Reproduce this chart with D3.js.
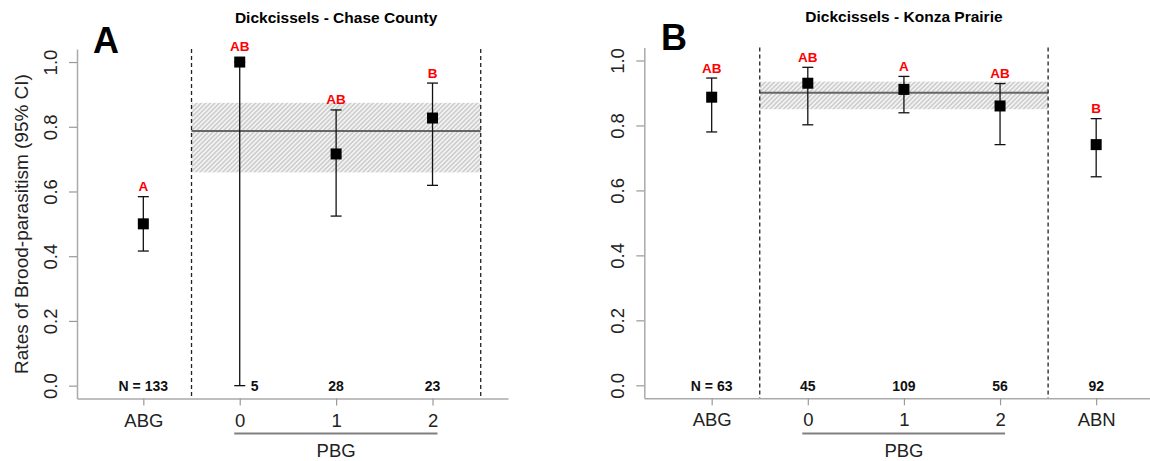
<!DOCTYPE html>
<html>
<head>
<meta charset="utf-8">
<script src="https://cdn.jsdelivr.net/npm/d3@7"></script>
<style>
  body { margin: 0; background: #fff; }
  svg { font-family: "Liberation Sans", Arial, sans-serif; }
</style>
</head>
<body>
<svg id="chart" width="1150" height="461"></svg>
<script>
// --- data ---
const yTicks = [0, 0.2, 0.4, 0.6, 0.8, 1.0];

// Panel A: Chase County
const groupsA  = ["ABG", "0", "1", "2"];
const meansA   = [0.500, 1.000, 0.716, 0.827];
const lowerA   = [0.416, 0.000, 0.524, 0.619];
const upperA   = [0.584, 1.000, 0.852, 0.935];
const nA       = ["N = 133", "5", "28", "23"];
const lettersA = ["A", "AB", "AB", "B"];
const pbgA     = [0.659, 0.787, 0.874]; // lower, pooled, upper

// Panel B: Konza Prairie
const groupsB  = ["ABG", "0", "1", "2", "ABN"];
const meansB   = [0.887, 0.930, 0.911, 0.860, 0.741];
const lowerB   = [0.780, 0.802, 0.839, 0.741, 0.642];
const upperB   = [0.946, 0.979, 0.951, 0.929, 0.821];
const nB       = ["N = 63", "45", "109", "56", "92"];
const lettersB = ["AB", "AB", "A", "AB", "B"];
const pbgB     = [0.850, 0.901, 0.935];

const svg = d3.select("#chart");

// hatch for the pooled PBG band
const defs = svg.append("defs");
const pat = defs.append("pattern")
  .attr("id", "hatch")
  .attr("patternUnits", "userSpaceOnUse")
  .attr("width", 3.2).attr("height", 3.2)
  .attr("patternTransform", "rotate(45)");
pat.append("rect").attr("width", 3.2).attr("height", 3.2).attr("fill", "#f3f3f3");
pat.append("line").attr("x1", 0.8).attr("y1", 0).attr("x2", 0.8).attr("y2", 3.2)
  .attr("stroke", "#c6c6c6").attr("stroke-width", 1.3);

function drawPanel(p) {
  const g = svg.append("g");
  const n = p.groups.length;

  const x = d3.scaleLinear().domain(p.xDomain).range(p.xRange);
  const y = d3.scaleLinear().domain([-0.04, 1.04]).range(p.yRange);

  // pooled band + line across the PBG section
  const bx0 = x(1.5), bx1 = x(4.5);
  g.append("rect")
    .attr("x", bx0).attr("width", bx1 - bx0)
    .attr("y", y(p.pbg[2])).attr("height", y(p.pbg[0]) - y(p.pbg[2]))
    .attr("fill", "url(#hatch)");
  g.append("line")
    .attr("x1", bx0).attr("x2", bx1)
    .attr("y1", y(p.pbg[1])).attr("y2", y(p.pbg[1]))
    .attr("stroke", "#666").attr("stroke-width", 2);

  // dashed separators
  g.selectAll("line.sep")
    .data([1.5, 4.5])
    .join("line")
    .attr("class", "sep")
    .attr("x1", d => x(d)).attr("x2", d => x(d))
    .attr("y1", y(1.04)).attr("y2", y(-0.04))
    .attr("stroke", "#222").attr("stroke-width", 1.3)
    .attr("stroke-dasharray", "4,3");

  // y axis
  const ya = g.append("g")
    .attr("transform", `translate(${p.xRange[0]},0)`)
    .call(d3.axisLeft(y).tickValues(yTicks).tickFormat(d3.format(".1f"))
      .tickSize(8).tickSizeOuter(0));
  ya.select(".domain").attr("stroke", "#aaa").attr("stroke-width", 1.5);
  ya.selectAll(".tick line").attr("stroke", "#999").attr("stroke-width", 1.2);
  ya.selectAll(".tick text")
    .attr("x", null).attr("dy", null)
    .attr("text-anchor", "middle")
    .attr("transform", "translate(-20.5,0) rotate(-90)")
    .attr("font-size", 18.5).attr("fill", "#222");

  // x axis
  const xa = g.append("g")
    .attr("transform", `translate(0,${y(-0.04)})`)
    .call(d3.axisBottom(x).tickValues(d3.range(1, n + 1))
      .tickFormat((d, i) => p.groups[i])
      .tickSize(7).tickSizeOuter(0).tickPadding(8));
  xa.select(".domain").attr("stroke", "#aaa").attr("stroke-width", 1.5);
  xa.selectAll(".tick line").attr("stroke", "#999").attr("stroke-width", 1.2);
  xa.selectAll(".tick text").attr("font-size", 18.5).attr("fill", "#222");

  // PBG bracket
  g.append("line")
    .attr("x1", x(2) - 5.5).attr("x2", x(4) + 5)
    .attr("y1", 433.5).attr("y2", 433.5)
    .attr("stroke", "#808080").attr("stroke-width", 2);
  g.append("text")
    .attr("x", x(3)).attr("y", 456.5)
    .attr("text-anchor", "middle")
    .attr("font-size", 18.5).attr("fill", "#222")
    .text("PBG");

  // error bars
  const idx = d3.range(n);
  const bars = g.append("g").selectAll("g").data(idx).join("g");
  bars.append("line")
    .attr("x1", i => x(i + 1)).attr("x2", i => x(i + 1))
    .attr("y1", i => y(p.lower[i])).attr("y2", i => y(p.upper[i]));
  bars.append("line")
    .attr("x1", i => x(i + 1) - 5.5).attr("x2", i => x(i + 1) + 5.5)
    .attr("y1", i => y(p.lower[i])).attr("y2", i => y(p.lower[i]));
  bars.append("line")
    .attr("x1", i => x(i + 1) - 5.5).attr("x2", i => x(i + 1) + 5.5)
    .attr("y1", i => y(p.upper[i])).attr("y2", i => y(p.upper[i]));
  bars.selectAll("line").attr("stroke", "#111").attr("stroke-width", 1.3);

  // point estimates
  g.append("g").selectAll("rect").data(idx).join("rect")
    .attr("x", i => x(i + 1) - 5.5).attr("y", i => y(p.means[i]) - 5.5)
    .attr("width", 11).attr("height", 11)
    .attr("fill", "#000");

  // significance letters
  g.append("g").selectAll("text").data(idx).join("text")
    .attr("x", i => x(i + 1))
    .attr("y", i => Math.min(y(p.upper[i]), y(p.means[i]) - 6) - 5.5)
    .attr("text-anchor", "middle")
    .attr("font-size", 13.5).attr("font-weight", "bold")
    .attr("fill", "#ff0000")
    .text(i => p.letters[i]);

  // sample sizes
  g.append("g").selectAll("text").data(idx).join("text")
    .attr("x", i => x(i + 1) + (p.lower[i] === 0 ? 15 : 0))
    .attr("y", 391)
    .attr("text-anchor", "middle")
    .attr("font-size", 14).attr("font-weight", "bold")
    .attr("fill", "#111")
    .text(i => p.ns[i]);

  // title and panel letter
  g.append("text")
    .attr("x", x(3)).attr("y", p.titleY)
    .attr("text-anchor", "middle")
    .attr("font-size", 15.5).attr("font-weight", "bold")
    .text(p.title);
  g.append("text")
    .attr("x", p.tag[0]).attr("y", p.tag[1])
    .attr("font-size", 36).attr("font-weight", "bold")
    .text(p.tagText);
}

drawPanel({
  groups: groupsA, means: meansA, lower: lowerA, upper: upperA,
  ns: nA, letters: lettersA, pbg: pbgA,
  xDomain: [0.312, 4.783], xRange: [77, 508],
  yRange: [398.6, 49.1],
  title: "Dickcissels - Chase County", titleY: 23,
  tagText: "A", tag: [93, 53]
});

drawPanel({
  groups: groupsB, means: meansB, lower: lowerB, upper: upperB,
  ns: nB, letters: lettersB, pbg: pbgB,
  xDomain: [0.299, 5.56], xRange: [644.3, 1150],
  yRange: [398.3, 47.5],
  title: "Dickcissels - Konza Prairie", titleY: 21.5,
  tagText: "B", tag: [661, 50]
});

// shared y label
svg.append("text")
  .attr("transform", "translate(28,224) rotate(-90)")
  .attr("text-anchor", "middle")
  .attr("font-size", 19).attr("fill", "#222")
  .text("Rates of Brood-parasitism (95% CI)");
</script>
</body>
</html>
